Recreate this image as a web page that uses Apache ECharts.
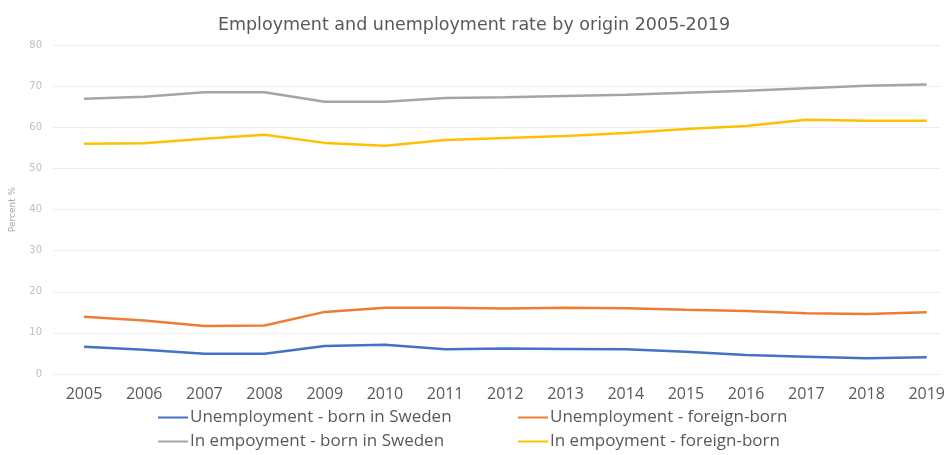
<!DOCTYPE html>
<html><head><meta charset="utf-8">
<script src="https://cdn.jsdelivr.net/npm/echarts@6/dist/echarts.min.js"></script>
<style>html,body{margin:0;padding:0;background:#fff}#c{width:948px;height:455px}</style>
</head><body><div id="c"></div>
<script>
const years = ['2005','2006','2007','2008','2009','2010','2011','2012','2013','2014','2015','2016','2017','2018','2019'];
const unempBorn = [6.6,5.9,4.9,4.9,6.8,7.1,6.0,6.2,6.1,6.0,5.4,4.6,4.2,3.8,4.1];
const unempForeign = [13.9,13.0,11.7,11.8,15.1,16.1,16.1,15.9,16.1,16.0,15.6,15.3,14.8,14.6,15.0];
const empBorn = [66.9,67.4,68.5,68.5,66.2,66.2,67.1,67.3,67.6,67.9,68.4,68.9,69.5,70.1,70.4];
const empForeign = [56.0,56.1,57.2,58.2,56.2,55.5,56.9,57.4,57.9,58.6,59.6,60.3,61.8,61.6,61.6];
const names = ['Unemployment - born in Sweden','Unemployment - foreign-born','In empoyment - born in Sweden','In empoyment - foreign-born'];
const colors = ['#4472C4','#ED7D31','#A5A5A5','#FFC000'];
const yTicks = [0,10,20,30,40,50,60,70,80];

const chart = echarts.init(document.getElementById('c'));
const mk = (i, d) => ({
  name: names[i], type: 'line', data: d, xAxisIndex: 1, yAxisIndex: 1,
  showSymbol: false, symbol: 'none', lineStyle: {color: colors[i], width: 2.5}, itemStyle: {color: colors[i]}
});
const lg = (i, left, top) => ({
  left: left, top: top, padding: 0, itemWidth: 30, itemHeight: 2, itemGap: 0, icon: 'rect',
  data: [names[i]],
  textStyle: {color: '#595959', fontSize: 17, fontFamily: 'Open Sans', padding: [0,0,0,-3]}
});
chart.setOption({
  animation: false,
  title: {text: 'Employment and unemployment rate by origin 2005-2019', left: 'center', top: 11,
    textStyle: {color: '#595959', fontSize: 17.5, fontWeight: 'normal', fontFamily: 'DejaVu Sans'}},
  grid: [
    {left: 52, right: 8, top: 45, bottom: 81},
    {left: 84, right: 20, top: 45, bottom: 81}
  ],
  xAxis: [
    {gridIndex: 0, type: 'category', data: years, show: false},
    {gridIndex: 1, type: 'category', data: years, boundaryGap: false,
     axisLine: {show: false}, axisTick: {show: false}, splitLine: {show: false},
     axisLabel: {color: '#595959', fontSize: 16, fontFamily: 'Open Sans', margin: 12}}
  ],
  yAxis: [
    {gridIndex: 0, type: 'value', min: yTicks[0], max: yTicks[yTicks.length-1], interval: 10,
     name: 'Percent %', nameLocation: 'middle', nameGap: 36,
     nameTextStyle: {color: '#a6a6a6', fontSize: 9, fontFamily: 'DejaVu Sans'},
     axisLine: {show: false}, axisTick: {show: false},
     axisLabel: {color: '#bfbfbf', fontSize: 10, fontFamily: 'DejaVu Sans', margin: 11},
     splitLine: {lineStyle: {color: '#eeeeee', width: 1}}},
    {gridIndex: 1, type: 'value', min: 0, max: 80, interval: 10, show: false, splitLine: {show: false}}
  ],
  legend: [lg(0, 158, 409), lg(1, 518, 409), lg(2, 158, 433), lg(3, 518, 433)],
  series: [mk(0, unempBorn), mk(1, unempForeign), mk(2, empBorn), mk(3, empForeign)]
});
</script></body></html>
